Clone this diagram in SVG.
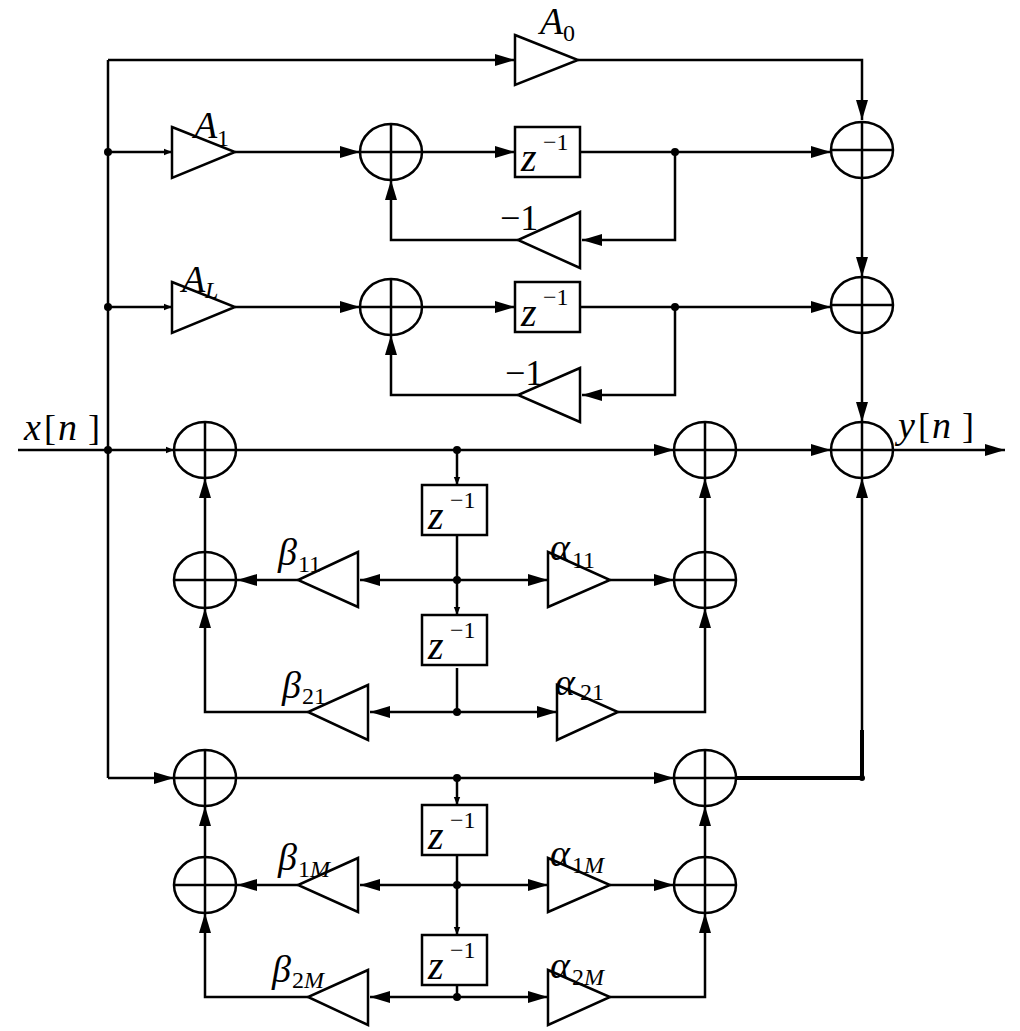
<svg xmlns="http://www.w3.org/2000/svg" width="1020" height="1031" viewBox="0 0 1020 1031">
<style>
.l{fill:none;stroke:#000;stroke-width:2.5}
.s{fill:#fff;stroke:#000;stroke-width:2.5}
.t{font-family:"Liberation Serif","Times New Roman",serif;font-style:italic;font-size:38px}
.u{font-family:"Liberation Serif",serif;font-size:24px}
.n{font-family:"Liberation Serif",serif;font-size:24px}
.b{font-family:"Liberation Serif",serif;font-size:36px}
</style>
<defs>
<marker id="a" viewBox="0 0 10 10" refX="10" refY="5" markerWidth="8" markerHeight="8" markerUnits="userSpaceOnUse" orient="auto"><path d="M0,1L10,5L0,9z"/></marker>
<marker id="b" viewBox="0 0 20 12" refX="20" refY="6" markerWidth="20" markerHeight="12" markerUnits="userSpaceOnUse" orient="auto"><path d="M0,0L20,6L0,12z"/></marker>
<g id="sum"><ellipse cx="0" cy="0" rx="31" ry="28" class="s"/><path d="M-31,0H31M0,-28V28" class="l"/></g>
<g id="zb"><rect x="0" y="0" width="65" height="50" class="s"/><text x="6" y="44" class="t" style="font-size:40px">z</text><text x="28" y="23" class="n">−1</text></g>
</defs>
<g id="connectors" class="l">
<path d="M18,450H108M108,60V778"/>
<path d="M108,60H515" marker-end="url(#b)"/>
<path d="M578,60H862V120" marker-end="url(#b)"/>
<path d="M108,152H172" marker-end="url(#a)"/>
<path d="M235,152H360" marker-end="url(#b)"/>
<path d="M422,152H515" marker-end="url(#b)"/>
<path d="M580,152H831" marker-end="url(#b)"/>
<path d="M675,152V240H582" marker-end="url(#b)"/>
<path d="M518,240H391V180" marker-end="url(#b)"/>
<path d="M108,307H172" marker-end="url(#a)"/>
<path d="M235,307H360" marker-end="url(#b)"/>
<path d="M422,307H515" marker-end="url(#b)"/>
<path d="M580,307H831" marker-end="url(#b)"/>
<path d="M675,307V395H582" marker-end="url(#b)"/>
<path d="M518,395H391V335" marker-end="url(#b)"/>
<path d="M862,178V277" marker-end="url(#b)"/>
<path d="M862,333V422" marker-end="url(#b)"/>
<path d="M108,450H174" marker-end="url(#a)"/>
<path d="M236,450H674" marker-end="url(#b)"/>
<path d="M736,450H831" marker-end="url(#b)"/>
<path d="M893,450H1005" marker-end="url(#b)"/>
<path d="M457,450V485" marker-end="url(#a)"/>
<path d="M457,535V615" marker-end="url(#a)"/>
<path d="M457,580H360" marker-end="url(#b)"/>
<path d="M298,580H237" marker-end="url(#b)"/>
<path d="M457,580H548" marker-end="url(#b)"/>
<path d="M610,580H674" marker-end="url(#b)"/>
<path d="M205,552V478" marker-end="url(#b)"/>
<path d="M705,552V478" marker-end="url(#b)"/>
<path d="M457,668V712"/>
<path d="M457,712H370" marker-end="url(#b)"/>
<path d="M308,712H205V608" marker-end="url(#b)"/>
<path d="M457,712H557" marker-end="url(#b)"/>
<path d="M618,712H705V608" marker-end="url(#b)"/>
<path d="M108,778H174" marker-end="url(#b)"/>
<path d="M236,778H674" marker-end="url(#b)"/>
<path d="M862,730V478" marker-end="url(#b)"/>
<path d="M736,778H862V730" stroke-width="4"/>
<path d="M457,778V805" marker-end="url(#a)"/>
<path d="M457,855V935" marker-end="url(#a)"/>
<path d="M457,885H360" marker-end="url(#b)"/>
<path d="M298,885H237" marker-end="url(#b)"/>
<path d="M457,885H548" marker-end="url(#b)"/>
<path d="M610,885H674" marker-end="url(#b)"/>
<path d="M205,857V806" marker-end="url(#b)"/>
<path d="M705,857V806" marker-end="url(#b)"/>
<path d="M457,985V997"/>
<path d="M457,997H370" marker-end="url(#b)"/>
<path d="M308,997H205V913" marker-end="url(#b)"/>
<path d="M457,997H548" marker-end="url(#b)"/>
<path d="M610,997H705V913" marker-end="url(#b)"/>
</g>
<g fill="#000">
<circle cx="108" cy="152" r="4"/><circle cx="108" cy="307" r="4"/><circle cx="108" cy="450" r="4"/>
<circle cx="675" cy="152" r="4"/><circle cx="675" cy="307" r="4"/>
<circle cx="457" cy="450" r="4"/><circle cx="457" cy="580" r="4"/><circle cx="457" cy="712" r="4"/>
<circle cx="457" cy="778" r="4"/><circle cx="457" cy="885" r="4"/><circle cx="457" cy="997" r="4"/>
<circle cx="862" cy="778" r="3"/>
</g>
<g id="gainA0"><path d="M515,35L578,60L515,85Z" class="s"/><text x="540" y="34" class="t">A</text><text x="563" y="41" class="u">0</text></g>
<g id="gainA1"><path d="M172,127L235,152L172,178Z" class="s"/><text x="194" y="138" class="t">A</text><text x="217" y="146" class="u">1</text></g>
<g id="gainAL"><path d="M172,282L235,307L172,333Z" class="s"/><text x="182" y="292" class="t">A</text><text x="205" y="298" class="u" style="font-style:italic">L</text></g>
<g id="fb1"><path d="M580,212L518,240L580,268Z" class="s"/><text x="500" y="230" class="b">−1</text></g>
<g id="fb2"><path d="M580,368L518,395L580,422Z" class="s"/><text x="505" y="385" class="b">−1</text></g>
<g id="sums">
<use href="#sum" x="391" y="152"/><use href="#sum" x="391" y="307"/>
<use href="#sum" x="862" y="150"/><use href="#sum" x="862" y="305"/><use href="#sum" x="862" y="450"/>
<use href="#sum" x="205" y="450"/><use href="#sum" x="705" y="450"/>
<use href="#sum" x="205" y="580"/><use href="#sum" x="705" y="580"/>
<use href="#sum" x="205" y="778"/><use href="#sum" x="705" y="778"/>
<use href="#sum" x="205" y="885"/><use href="#sum" x="705" y="885"/>
</g>
<g id="delays">
<use href="#zb" x="515" y="127"/><use href="#zb" x="515" y="282"/>
<use href="#zb" x="422" y="485"/><use href="#zb" x="422" y="615"/>
<use href="#zb" x="422" y="805"/><use href="#zb" x="422" y="935"/>
</g>
<g id="coefs">
<path d="M358,552L298,580L358,607Z" class="s"/><text x="278" y="565" class="t">β</text><text x="298" y="572" class="u">11</text>
<path d="M548,552L610,580L548,607Z" class="s"/><text x="550" y="560" class="t">α</text><text x="572" y="568" class="u">11</text>
<path d="M368,685L308,712L368,740Z" class="s"/><text x="282" y="698" class="t">β</text><text x="302" y="704" class="u">21</text>
<path d="M557,685L618,712L557,740Z" class="s"/><text x="555" y="695" class="t">α</text><text x="580" y="700" class="u">21</text>
<path d="M358,858L298,885L358,912Z" class="s"/><text x="278" y="870" class="t">β</text><text x="298" y="877" class="u">1<tspan style="font-style:italic">M</tspan></text>
<path d="M548,858L610,885L548,912Z" class="s"/><text x="550" y="866" class="t">α</text><text x="572" y="873" class="u">1<tspan style="font-style:italic">M</tspan></text>
<path d="M368,970L308,997L368,1025Z" class="s"/><text x="272" y="982" class="t">β</text><text x="292" y="988" class="u">2<tspan style="font-style:italic">M</tspan></text>
<path d="M548,970L610,997L548,1025Z" class="s"/><text x="550" y="978" class="t">α</text><text x="572" y="985" class="u">2<tspan style="font-style:italic">M</tspan></text>
</g>
<g id="io">
<text x="24" y="440" class="t">x</text><text x="44" y="440" class="b">[</text><text x="58" y="440" class="t">n</text><text x="88" y="440" class="b">]</text>
<text x="898" y="438" class="t">y</text><text x="918" y="438" class="b">[</text><text x="932" y="438" class="t">n</text><text x="962" y="438" class="b">]</text>
</g>
</svg>
